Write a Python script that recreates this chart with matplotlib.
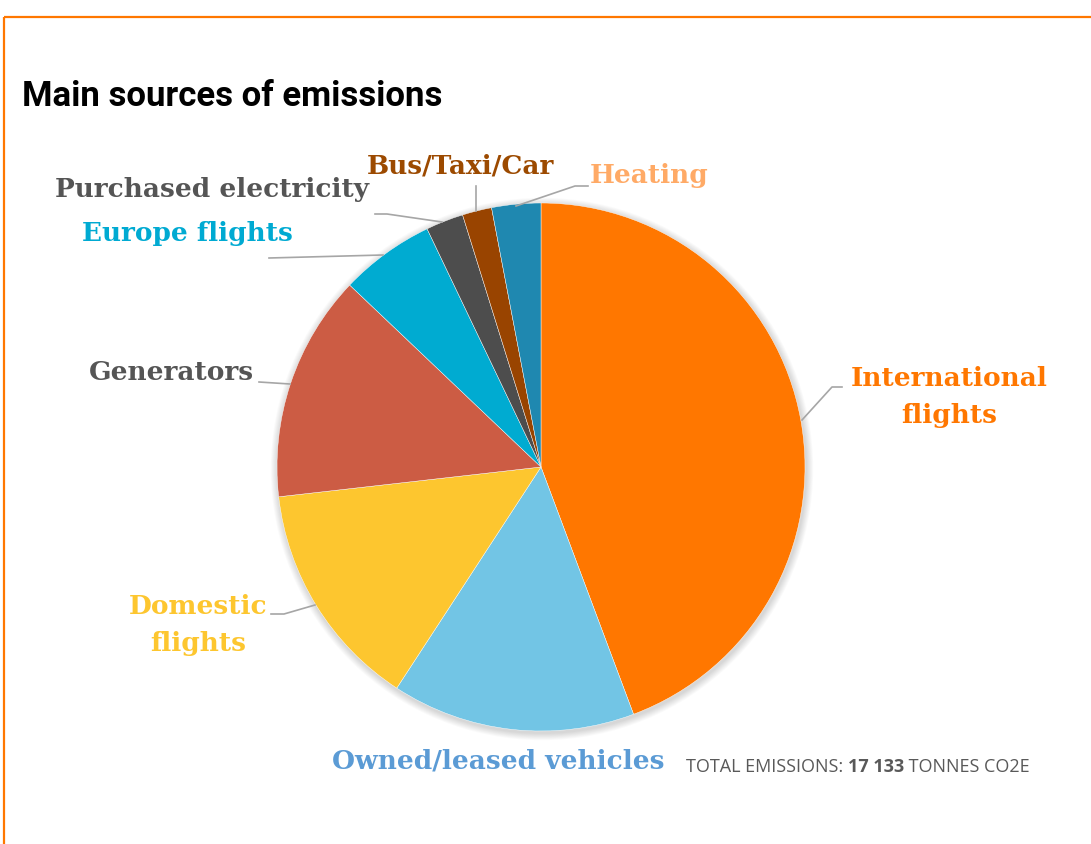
import matplotlib
matplotlib.use("Agg")
import matplotlib.pyplot as plt
from matplotlib.patches import Circle

# ---- data (share of total emissions, %) ----
categories = ["International flights", "Owned/leased vehicles", "Domestic flights",
              "Generators", "Europe flights", "Purchased electricity",
              "Bus/Taxi/Car", "Heating"]
shares = [44.3, 14.9, 14.0, 13.9, 5.8, 2.3, 1.8, 3.0]
label_texts = ["International\nflights", "Owned/leased vehicles", "Domestic\nflights",
               "Generators", "Europe flights", "Purchased electricity",
               "Bus/Taxi/Car", "Heating"]
slice_colors = ["#FF7700", "#72C5E5", "#FDC62F", "#CC5C44", "#00ABD1",
                "#4D4D4D", "#994400", "#1F88B0"]
label_colors = ["#FF7700", "#5B9BD5", "#FDC62F", "#555555", "#00AAD2",
                "#555555", "#9C4A00", "#FFAA66"]
title = "Main sources of emissions"
total_prefix = "TOTAL EMISSIONS: "
total_value = "17 133"
total_suffix = " TONNES CO2E"

W, H = 1091, 844
fig = plt.figure(figsize=(W / 100, H / 100), dpi=100)
ax = fig.add_axes([0, 0, 1, 1])
ax.set_xlim(0, W)
ax.set_ylim(0, H)
ax.set_aspect("equal")
ax.axis("off")

def Y(y):
    return H - y

cx, cy, R = 541, Y(467), 264

# soft shadow
for i in range(8, 0, -1):
    ax.add_patch(Circle((cx + 1, cy - 2), R + i * 0.9, color="#000000",
                        alpha=0.018, lw=0, zorder=1))

ax.pie(shares, colors=slice_colors, startangle=90, counterclock=False,
       center=(cx, cy), radius=R, frame=True,
       wedgeprops=dict(linewidth=0.3, edgecolor="white", zorder=2))
ax.set_xlim(0, W)
ax.set_ylim(0, H)
ax.axis("off")

# border
border_c = "#FF7700"
ax.plot([4, W + 5], [Y(17), Y(17)], color=border_c, lw=1.6, solid_capstyle="butt", zorder=5)
ax.plot([4, 4], [Y(17), -5], color=border_c, lw=1.6, solid_capstyle="butt", zorder=5)

# title
ax.text(22, Y(97), title, fontsize=25, fontweight="bold", family="Roboto",
        color="black", ha="left", va="center")

# labels
label_pos = [(949, 397), (498, 761), (198, 625), (171, 372), (187, 233),
             (212, 189), (460, 166), (649, 176)]
lfont = dict(fontsize=19, fontweight="bold", family="DejaVu Serif")
for txt, (x, y), c in zip(label_texts, label_pos, label_colors):
    ax.text(x, Y(y), txt, color=c, ha="center", va="center",
            linespacing=1.55, **lfont)

# leader lines
lead_c = "#A6A6A6"
leaders = [
    [(842, 387), (832, 387), (802, 420)],
    [(271, 614), (284, 614), (315, 605)],
    [(259, 382), (290, 384)],
    [(269, 258), (383, 255)],
    [(375, 214), (387, 214), (442, 222)],
    [(476, 186), (476, 211)],
    [(588, 186), (575, 186), (516, 206)],
]
for pts in leaders:
    ax.plot([p[0] for p in pts], [Y(p[1]) for p in pts], color=lead_c, lw=1.2, zorder=6)

# total emissions note
tfont = dict(fontsize=13, family="Open Sans", color="#595959", va="center")
fig.canvas.draw()
r = fig.canvas.get_renderer()
t1 = ax.text(686, Y(767), total_prefix, ha="left", **tfont)
bb = t1.get_window_extent(r)
x2 = ax.transData.inverted().transform((bb.x1, 0))[0]
t2 = ax.text(x2, Y(767), total_value, ha="left", fontweight="bold", **tfont)
bb2 = t2.get_window_extent(r)
x3 = ax.transData.inverted().transform((bb2.x1, 0))[0]
ax.text(x3, Y(767), total_suffix, ha="left", **tfont)

fig.savefig("out.png", dpi=100)
